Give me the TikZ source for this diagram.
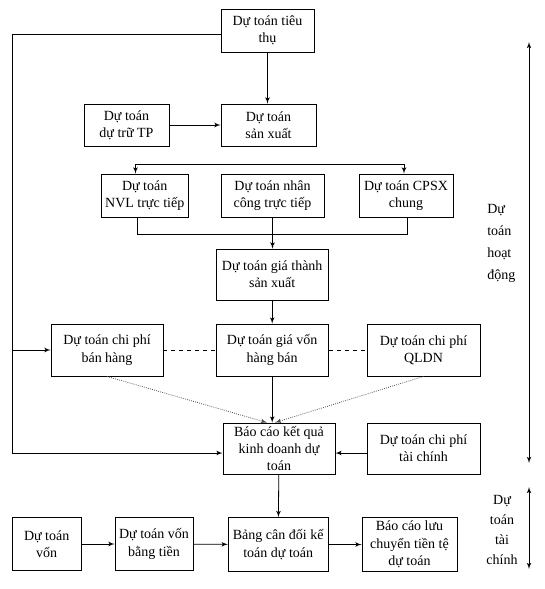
\documentclass[tikz,border=0pt]{standalone}
\usepackage{fontspec}
\setmainfont{Liberation Serif}
\usepackage{tikz}
\usetikzlibrary{positioning}
\usetikzlibrary{shapes,arrows}
\tikzstyle{block} = [rectangle, draw, line width=0.6pt, align=center,
                inner sep=0pt, font=\fontsize{10.5}{13}\selectfont]
\tikzstyle{line} = [draw, line width=0.6pt, -latex']
\tikzstyle{link} = [draw, line width=0.6pt]
\tikzstyle{side} = [align=left, inner sep=0pt, font=\fontsize{10.5}{16.5}\selectfont]
\tikzset{sz/.style 2 args={minimum width=#1*0.75pt, minimum height=#2*0.75pt}}

\begin{document}
\begin{tikzpicture}[x=0.75pt, y=-0.75pt]
        \useasboundingbox (0,0) rectangle (545,589);
        % hoat dong
        \node[block, sz={93}{43}] (tieuthu) at (267.5,30.5) {Dự toán tiêu\\thụ};
        \node[block, sz={85}{42}] (dutru) at (126.5,125) {Dự toán\\dự trữ TP};
        \node[block, sz={95}{42}] (sanxuat) at (268.5,125) {Dự toán\\sản xuất};
        \node[block, sz={87}{43}] (nvl) at (144.7,195.5) {Dự toán\\NVL trực tiếp};
        \node[block, sz={103}{43}] (nhancong) at (272.5,195.5) {Dự toán nhân\\công trực tiếp};
        \node[block, sz={94}{43}] (cpsx) at (406,195.5) {Dự toán CPSX\\chung};
        \node[block, sz={112}{51}] (giathanh) at (272.2,274.5) {Dự toán giá thành\\sản xuất};
        \node[block, sz={112}{52}] (banhang) at (107,350) {Dự toán chi phí\\bán hàng};
        \node[block, sz={112}{52}] (giavon) at (272.2,350) {Dự toán giá vốn\\hàng bán};
        \node[block, sz={113}{52}] (qldn) at (423.5,350) {Dự toán chi phí\\QLDN};
        \node[block, sz={112}{51}] (baocao) at (279,448.5) {Báo cáo kết quả\\kinh doanh dự\\toán};
        \node[block, sz={113}{51}] (taichinh) at (423.5,448.5) {Dự toán chi phí\\tài chính};
        % tai chinh
        \node[block, sz={69}{53}] (von) at (46.7,544) {Dự toán\\vốn};
        \node[block, sz={78}{53}] (vonbangtien) at (154,544) {Dự toán vốn\\bằng tiền};
        \node[block, sz={100}{54}] (cando) at (278.2,544.5) {Bảng cân đối kế\\toán dự toán};
        \node[block, sz={95}{54}] (luuchuyen) at (409.5,544.5) {Báo cáo lưu\\chuyển tiền tệ\\dự toán};
        % side labels
        \node[side, anchor=west] (hoatdong) at (487,243) {Dự\\toán\\hoạt\\động};
        \node[side, align=center, font=\fontsize{10.5}{15}\selectfont] (taichinhlbl) at (502,530) {Dự\\toán\\tài\\chính};
        \coordinate (hdTop) at (529,42);
        \coordinate (hdBot) at (529,463);
        \coordinate (tcTop) at (529,487);
        \coordinate (tcBot) at (529,569);
        \coordinate (splitL) at (135.5,164);
        \coordinate (splitR) at (404,164);
        \coordinate (joinL) at (137,234);
        \coordinate (joinR) at (407,234);
        \coordinate (loop) at (12.5,350);
        \coordinate (inL) at ([xshift=-9pt]baocao.north);
        \coordinate (inR) at ([xshift=-3pt]baocao.north);
        % connectors
        \path[line] (tieuthu.south) -- (tieuthu.south |- sanxuat.north);
        \path[line] (dutru) -- (sanxuat);
        \path[draw, line width=0.6pt, latex'-latex'] (splitL |- nvl.north) -- (splitL) -- (splitR) -- (splitR |- cpsx.north);
        \path[link] (joinL |- nvl.south) -- (joinL) -- (joinR) -- (joinR |- cpsx.south);
        \path[line] (nhancong.south) -- (nhancong.south |- giathanh.north);
        \path[line] (giathanh) -- (giavon);
        \path[link, dashed] (banhang) -- (giavon);
        \path[link, dashed] (giavon) -- (qldn);
        \path[line] (giavon.south) -- (giavon.south |- baocao.north);
        \path[line, densely dotted, draw=gray!60!black] (banhang.south) -- (inL);
        \path[line, densely dotted, draw=gray!60!black] (qldn.south) -- (inR);
        \path[line] ([yshift=-3.4pt]taichinh.west) -- ([yshift=-3.4pt]baocao.east);
        \path[line] ([yshift=-3pt]tieuthu.west) -| (loop) |- ([yshift=-3.4pt]baocao.west);
        \path[line] (loop) -- (banhang.west);
        \path[line] (baocao) -- (cando);
        \path[line] (von) -- (vonbangtien);
        \path[line] (vonbangtien) -- (cando);
        \path[line] (cando) -- (luuchuyen);
        \path[draw, line width=0.6pt, latex'-latex'] (hdTop) -- (hdBot);
        \path[draw, line width=0.6pt, latex'-latex'] (tcTop) -- (tcBot);
    \end{tikzpicture}
\end{document}
